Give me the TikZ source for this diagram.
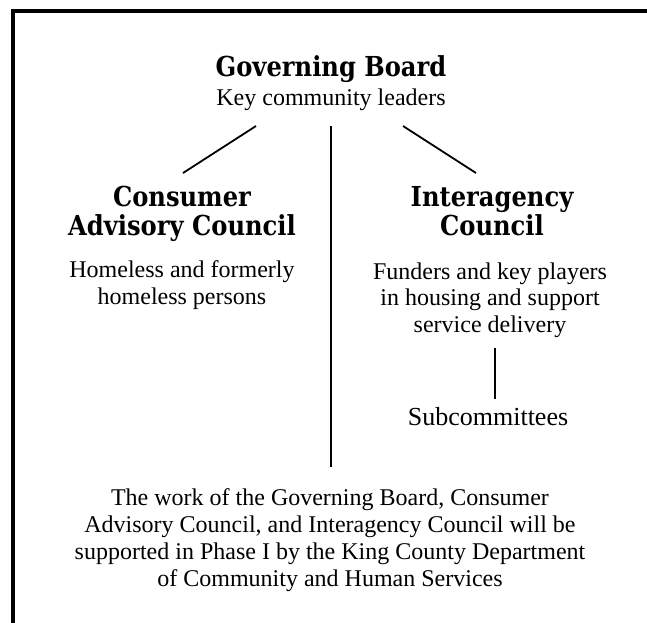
\documentclass[tikz,border=0pt]{standalone}
\usepackage{fontspec}
\setmainfont{Liberation Serif}
\newfontfamily\hdfont[FakeStretch=0.88]{DejaVu Serif}
\begin{document}
\begin{tikzpicture}[x=1pt,y=-1pt,
  head/.style={font=\hdfont\bfseries\fontsize{27.5}{29}\selectfont, align=center, anchor=base, inner sep=0pt},
  body/.style={font=\fontsize{24}{26.5}\selectfont, align=center, anchor=base, inner sep=0pt},
  link/.style={line width=1.8pt},
  frame/.style={line width=4pt}]
\useasboundingbox (0,0) rectangle (647,622);
\draw[frame] (13,630) -- (13,11) -- (660,11);

\node[head] (gb) at (331,76) {Governing Board};
\node[body] (kcl) at (331,105) {Key community leaders};

\node[head] (cac) at (182,235) {Consumer\\Advisory Council};
\node[body] (cacd) at (182,304) {Homeless and formerly\\homeless persons};

\node[head] (ic) at (492,235) {Interagency\\Council};
\node[body] (icd) at (490,332) {Funders and key players\\in housing and support\\service delivery};

\node[body, font=\fontsize{26}{28}\selectfont] (sub) at (488,425) {Subcommittees};

\node[body, font=\fontsize{24}{27}\selectfont] (note) at (330,586) {The work of the Governing Board, Consumer\\Advisory Council, and Interagency Council will be\\supported in Phase I by the King County Department\\of Community and Human Services};

\coordinate (gbL) at (256,126);
\coordinate (cacT) at (183,173);
\coordinate (gbR) at (403,126);
\coordinate (icT) at (476,173);
\coordinate (gbC) at (331,126);
\coordinate (noteT) at (331,467);
\coordinate (icB) at (495,348);
\coordinate (subT) at (495,399);

\draw[link] (gbL) -- (cacT);
\draw[link] (gbR) -- (icT);
\draw[link] (gbC) -- (noteT);
\draw[link] (icB) -- (subT);
\end{tikzpicture}
\end{document}
